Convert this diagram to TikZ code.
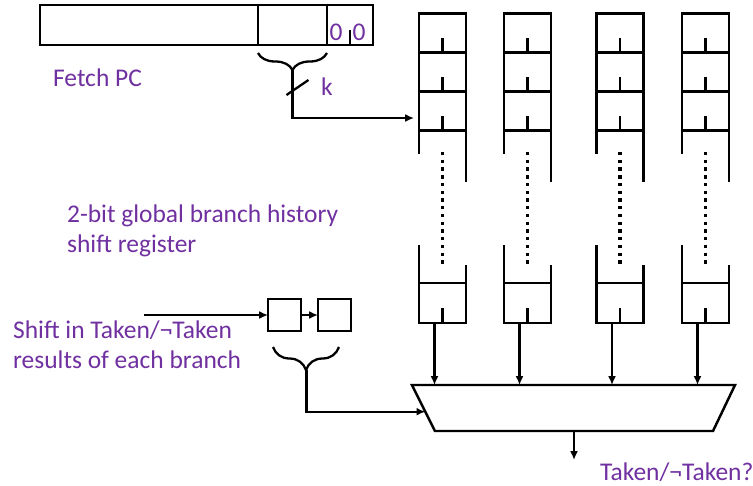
\documentclass[tikz,border=0pt]{standalone}
\usepackage{fontspec}
\setmainfont{Carlito}
\usetikzlibrary{positioning, arrows.meta, calc, decorations.pathreplacing}
\definecolor{labelpurple}{RGB}{112,48,160}

\begin{document}
\begin{tikzpicture}[
		x=0.02cm, y=-0.02cm,
		>={Latex[length=5pt,width=4.5pt]},
		line width=1.3pt,
		% Styles for register fields and table entries
		field/.style={
			draw, rectangle, inner sep=0pt, outer sep=0pt, line width=1.4pt
		},
		cell/.style={field, minimum width=0.94cm, minimum height=0.78cm},
		% Style for the purple captions
		caption_text/.style={
			font=\fontsize{14.5}{17}\selectfont, text=labelpurple,
			inner sep=0pt, align=left
		},
		% Style for the curly braces
		curly/.style={decorate, decoration={brace, mirror, amplitude=#1}},
		% Style for the elided entries
		dotcol/.style={line width=1.9pt, dash pattern=on 1.9pt off 2.5pt}
		]
		
		\useasboundingbox (0,0) rectangle (753,485);
		
		% ==========================================
		% 1. THE TOP LEFT: Fetch PC register
		% ==========================================
		\node[field, minimum width=4.36cm, minimum height=0.8cm] (pchi) at (149,25) {};
		\node[field, minimum width=1.38cm, minimum height=0.8cm, right=0pt of pchi] (pcidx) {};
		\node[field, minimum width=0.92cm, minimum height=0.8cm, right=0pt of pcidx] (pclo) {};
		\node[caption_text] (zeroa) at (336,32) {0};
		\node[caption_text] (zerob) at (359,32) {0};
		\draw (pclo.south) -- ++(0,-15);
		
		\node[caption_text, anchor=base west] (fetchpc) at (52,86) {Fetch PC};
		
		% Index bits
		\draw[curly=0.34cm] ([yshift=-0.16cm]pcidx.south west) -- ([yshift=-0.16cm]pcidx.south east);
		\coordinate (idxtip) at ($(pcidx.south)+(0,25)$);
		\draw ($(idxtip)+(-6,25)$) -- ++(22,-15);
		\node[caption_text] (klabel) at (327,87) {k};
		
		% ==========================================
		% 2. THE BOTTOM: Selector
		% ==========================================
		\coordinate (mux-tl) at (412,385);
		\coordinate (mux-tr) at (735,385);
		\coordinate (mux-br) at (713,431);
		\coordinate (mux-bl) at (435,431);
		\draw[line width=1.4pt, line join=miter] (mux-tl) -- (mux-tr) -- (mux-br) -- (mux-bl) -- cycle;
		\coordinate (mux-out) at ($(mux-bl)!0.5!(mux-br)$);
		\coordinate (mux-in) at ($(mux-tl)!0.58!(mux-bl)$);
		\draw[->] (mux-out) -- ++(0,29);
		\node[caption_text, anchor=base west] (result) at (599,480) {Taken/¬Taken?};
		
		% ==========================================
		% 3. THE RIGHT: Pattern tables
		% ==========================================
		\foreach \i/\cx in {1/442.5, 2/527.5, 3/620, 4/705.5} {
			\foreach \j/\cy in {1/33, 2/72, 3/111} {
				\node[cell] (s\i-\j) at (\cx,\cy) {};
				\draw (s\i-\j.south) -- ++(0,-15);
			}
			\node[cell, minimum height=0.8cm] (s\i-b) at (\cx,303) {};
			\draw (s\i-b.south) -- ++(0,-15);
			% open walls
			\draw (s\i-3.south west) -- ++(0,23);
			\draw (s\i-3.south east) -- ++(0,51);
			\draw (s\i-b.north west) -- ++(0,-38);
			\draw (s\i-b.north east) -- ++(0,-18);
			\draw[dotcol] (\cx,152) -- (\cx,266);
			% to selector
			\coordinate (o\i) at ([xshift=-0.16cm]s\i-b.south);
			\draw[->] (o\i) -- (o\i |- mux-tl);
		}
		
		\draw[->, shorten >=0.1cm] (idxtip) |- ([yshift=-0.14cm]s1-3.west);
		
		% ==========================================
		% 4. THE LEFT: Global history
		% ==========================================
		\node[caption_text, anchor=base west] (histlabel) at (66,252) {2-bit global branch history\\shift register};
		
		\node[field, minimum width=0.66cm, minimum height=0.64cm] (h1) at (284.5,315) {};
		\node[field, minimum width=0.66cm, minimum height=0.64cm] (h2) at (334.5,315) {};
		\coordinate (shiftin) at (144,315);
		\draw[->] (shiftin) -- (h1);
		\draw[->] (h1) -- (h2);
		\node[caption_text, anchor=base west] (shiftlabel) at (12,368) {Shift in Taken/¬Taken\\results of each branch};
		
		\draw[curly=0.46cm] ([xshift=0.1cm, yshift=-0.32cm]h1.south west) -- ([xshift=-0.24cm, yshift=-0.32cm]h2.south east);
		\coordinate (histtip) at ($(h1.south west)!0.5!(h2.south east)+(-3,39)$);
		\draw[->] (histtip) |- (mux-in);
		
	\end{tikzpicture}
\end{document}
